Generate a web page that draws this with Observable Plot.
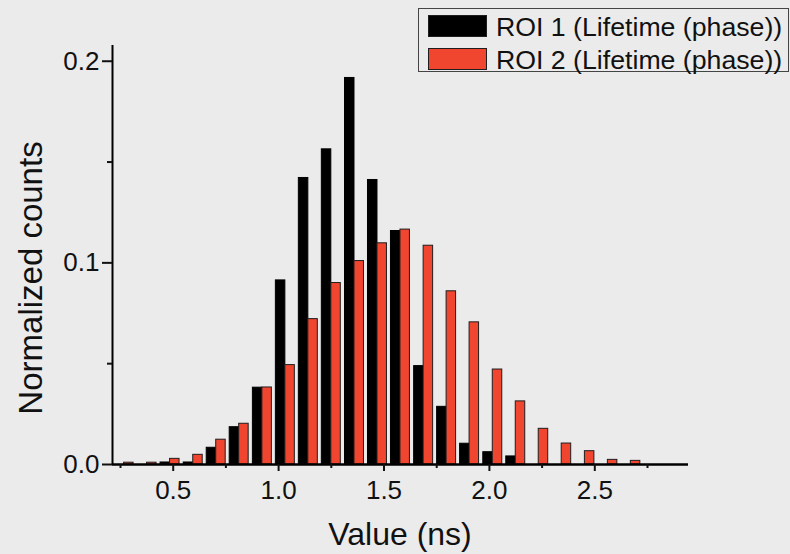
<!DOCTYPE html>
<html>
<head>
<meta charset="utf-8">
<script src="https://cdn.jsdelivr.net/npm/d3@7"></script>
<script src="https://cdn.jsdelivr.net/npm/@observablehq/plot@0.6"></script>
<style>
  html, body { margin: 0; padding: 0; background: #ebebeb; }
  #wrap { position: relative; width: 790px; height: 554px; overflow: hidden; background: #ebebeb;
          font-family: "Liberation Sans", Arial, sans-serif; color: #111; }
  #wrap svg { position: absolute; left: 0; top: 0; }
  .lbl { position: absolute; white-space: nowrap; }
  #legend { position: absolute; left: 418px; top: 8px; width: 371px; height: 64px;
            border: 1px solid #444; box-sizing: border-box; }
  .sw { position: absolute; left: 9px; width: 59px; height: 22px; box-sizing: border-box; }
  .lt { position: absolute; left: 77px; font-size: 26.7px; line-height: 26px; white-space: nowrap; }
</style>
</head>
<body>
<div id="wrap"></div>
<script>
// ---- data ----
const binCenters = [0.267, 0.376, 0.485, 0.595, 0.704, 0.813, 0.923, 1.032, 1.141, 1.250, 1.360, 1.469,
                    1.578, 1.688, 1.797, 1.906, 2.016, 2.125, 2.234, 2.343, 2.453, 2.562, 2.671];
const roi1 = [0, 0, 0.001, 0.001, 0.0083, 0.0185, 0.0381, 0.0913, 0.1421, 0.1563, 0.1917, 0.1411,
              0.1158, 0.0488, 0.0286, 0.0103, 0.0061, 0.0040, 0, 0, 0, 0, 0];
const roi2 = [0.0009, 0.0009, 0.0028, 0.0048, 0.0123, 0.0202, 0.0382, 0.0493, 0.0721, 0.0900, 0.1009, 0.1097,
              0.1165, 0.1085, 0.0859, 0.0705, 0.0471, 0.0313, 0.0177, 0.0104, 0.0066, 0.0023, 0.0018];
const seriesNames = ["ROI 1 (Lifetime (phase))", "ROI 2 (Lifetime (phase))"];
const xMajorTicks = [0.5, 1.0, 1.5, 2.0, 2.5];
const xMinorTicks = [0.25, 0.75, 1.25, 1.75, 2.25, 2.75];
const yMajorTicks = [0.0, 0.1, 0.2];
const yMinorTicks = [0.05, 0.15];
const xDomain = [0.212, 2.9445];
const yDomain = [0, 0.2078];

// ---- styles ----
const barW = 0.045;
const black = "#000000";
const red = "#f0452f";

const rows1 = binCenters.map((c, i) => ({c, v: roi1[i]})).filter(d => d.v > 0);
const rows2 = binCenters.map((c, i) => ({c, v: roi2[i]})).filter(d => d.v > 0);

const chart = Plot.plot({
  width: 790, height: 554,
  marginLeft: 112, marginRight: 102, marginTop: 45, marginBottom: 90,
  x: {domain: xDomain},
  y: {domain: yDomain},
  style: {background: "transparent", fontFamily: "'Liberation Sans', Arial, sans-serif", color: "#111"},
  marks: [
    Plot.rectY(rows1, {x1: d => d.c - barW, x2: d => d.c, y1: 0, y2: "v", fill: black, stroke: black, strokeWidth: 1}),
    Plot.rectY(rows2, {x1: d => d.c, x2: d => d.c + barW, y1: 0, y2: "v", fill: red, stroke: "#1e1e1e", strokeWidth: 1}),
    Plot.ruleY([yDomain[0]], {stroke: "#000", strokeWidth: 2.5}),
    Plot.ruleX([xDomain[0]], {stroke: "#000", strokeWidth: 2}),
    Plot.axisX({ticks: xMajorTicks, tickSize: 7, tickPadding: 9, fontSize: 26, strokeWidth: 2,
                tickFormat: d => d.toFixed(1), label: null, fill: "#111"}),
    Plot.axisX({ticks: xMinorTicks, tickSize: 4, strokeWidth: 2, tickFormat: () => "", label: null}),
    Plot.axisY({ticks: yMajorTicks, tickSize: 10, tickPadding: 3, fontSize: 26, strokeWidth: 2,
                tickFormat: d => d.toFixed(1), label: null, fill: "#111"}),
    Plot.axisY({ticks: yMinorTicks, tickSize: 5, strokeWidth: 2, tickFormat: () => "", label: null})
  ]
});

const wrap = document.getElementById("wrap");
wrap.appendChild(chart);

// axis titles
const xt = document.createElement("div");
xt.className = "lbl";
xt.textContent = "Value (ns)";
Object.assign(xt.style, {left: "400px", top: "518px", fontSize: "32px", lineHeight: "32px", transform: "translateX(-50%)"});
wrap.appendChild(xt);

const yt = document.createElement("div");
yt.className = "lbl";
yt.textContent = "Normalized counts";
Object.assign(yt.style, {left: "29.5px", top: "277.5px", fontSize: "33px", lineHeight: "33px",
  transform: "translate(-50%, -50%) rotate(-90deg)"});
wrap.appendChild(yt);

// legend
const lg = document.createElement("div");
lg.id = "legend";
const colors = [black, red];
seriesNames.forEach((name, i) => {
  const sw = document.createElement("div");
  sw.className = "sw";
  Object.assign(sw.style, {top: (6 + i * 33) + "px", background: colors[i], border: "1px solid #1e1e1e"});
  lg.appendChild(sw);
  const t = document.createElement("div");
  t.className = "lt";
  t.textContent = name;
  Object.assign(t.style, {top: (5 + i * 33) + "px"});
  lg.appendChild(t);
});
wrap.appendChild(lg);
</script>
</body>
</html>
